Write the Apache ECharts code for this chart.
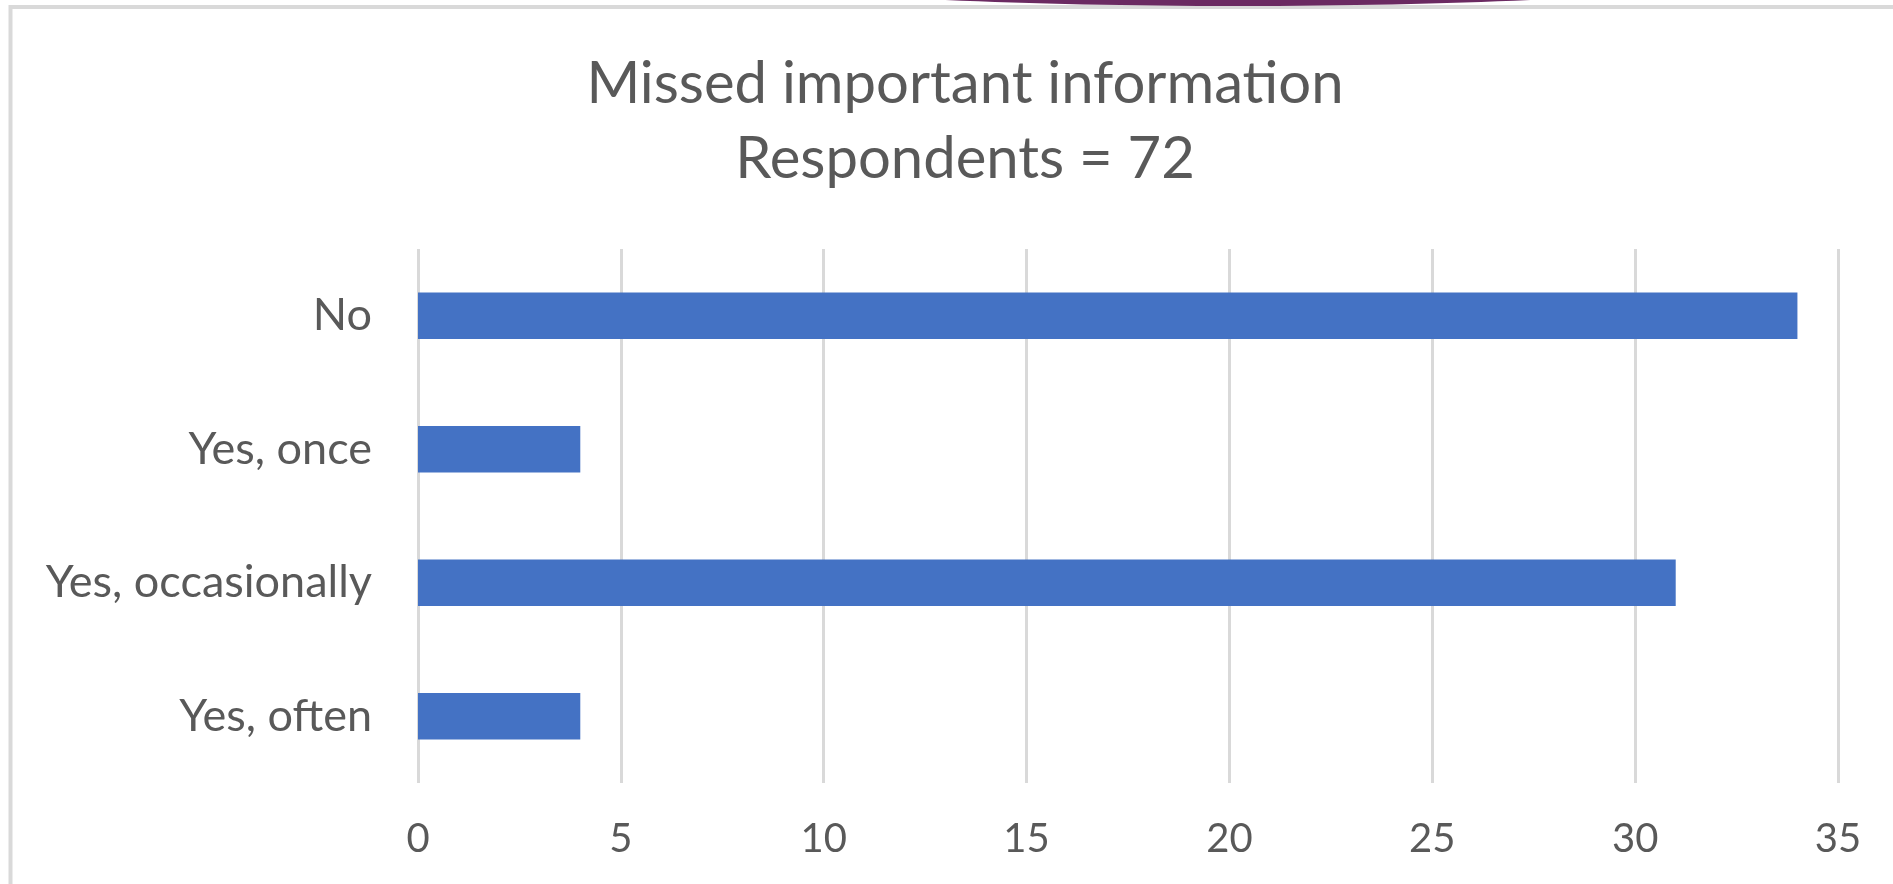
<!DOCTYPE html>
<html>
<head>
<meta charset="utf-8">
<script src="https://cdn.jsdelivr.net/npm/echarts@6/dist/echarts.min.js"></script>
<style>
html,body{margin:0;padding:0;background:#fff;}
#chart{width:1893px;height:884px;}
</style>
</head>
<body>
<div id="chart"></div>
<script>
const titleLines = ['Missed important information', 'Respondents = 72'];
const categories = ['No', 'Yes, once', 'Yes, occasionally', 'Yes, often'];
const values = [34, 4, 31, 4];
const xTicks = { min: 0, max: 35, interval: 5 };

const FONT = 'Lato';
const TEXT = '#595959';

const chart = echarts.init(document.getElementById('chart'));
chart.setOption({
  backgroundColor: '#ffffff',
  animation: false,
  graphic: [
    { type: 'rect', shape: { x: 10.5, y: 7, width: 1900, height: 900 }, style: { fill: 'none', stroke: '#d9d9d9', lineWidth: 4 }, z: 0 },
    { type: 'ellipse', shape: { cx: 1238, cy: -34, rx: 555, ry: 40 }, style: { fill: '#6b2a62' }, z: 1 }
  ],
  title: {
    text: titleLines.join('\n'),
    left: 960,
    top: 42,
    textAlign: 'center',
    textStyle: { fontFamily: FONT, fontSize: 58, fontWeight: 'normal', color: TEXT, lineHeight: 75 }
  },
  grid: { left: 418, right: 55, top: 249, bottom: 101, containLabel: false },
  xAxis: {
    type: 'value',
    min: xTicks.min, max: xTicks.max, interval: xTicks.interval,
    axisLine: { show: false },
    axisTick: { show: false },
    splitLine: { show: true, lineStyle: { color: '#d9d9d9', width: 3 } },
    axisLabel: { fontFamily: FONT, fontSize: 40, color: TEXT, margin: 36 }
  },
  yAxis: {
    type: 'category',
    data: categories,
    inverse: true,
    axisLine: { show: false },
    axisTick: { show: false },
    axisLabel: { fontFamily: FONT, fontSize: 45, color: TEXT, margin: 46 }
  },
  series: [{
    type: 'bar',
    data: values,
    barWidth: '35%',
    itemStyle: { color: '#4472c4' }
  }]
});
</script>
</body>
</html>
